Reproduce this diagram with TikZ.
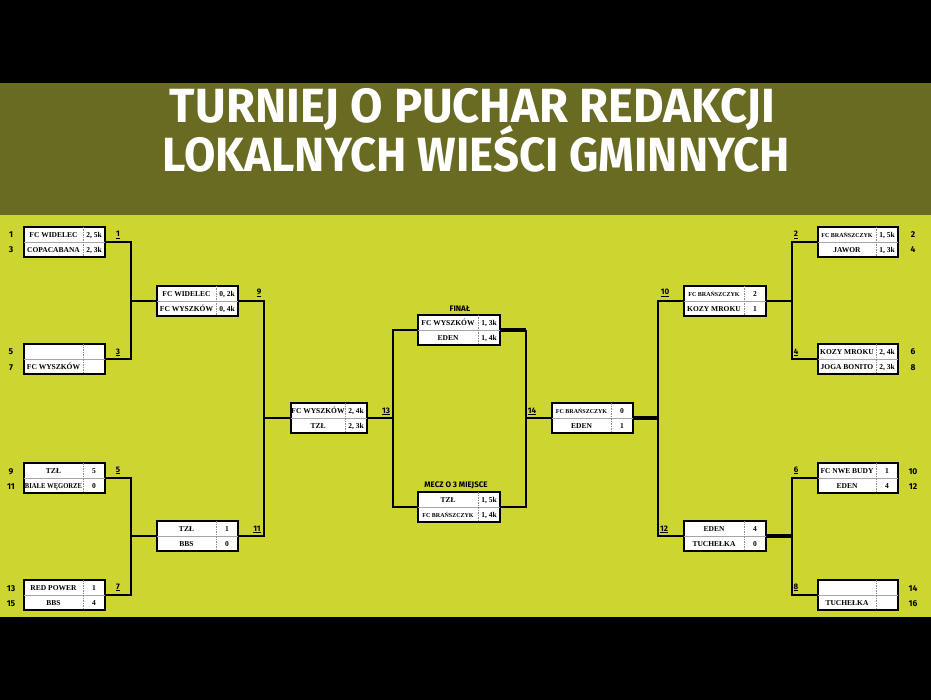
\documentclass[tikz,border=0pt]{standalone}
\usepackage{fontspec}
\usepackage{graphicx}
\setmainfont{Liberation Serif}
\newfontfamily\titlefont{Fira Sans}
\newfontfamily\labfont{Fira Sans}
\usetikzlibrary{calc}
\definecolor{bandolive}{RGB}{106,107,34}
\definecolor{bandgreen}{RGB}{205,213,48}
\tikzset{
  mbox/.style={draw=black, fill=white, line width=1.2pt, minimum height=30pt, inner sep=0pt, outer sep=0pt},
  rowsep/.style={draw=black!35, line width=0.5pt},
  colsep/.style={draw=black!45, line width=0.5pt, dash pattern=on 1.5pt off 1pt},
  team/.style={font=\bfseries\fontsize{7.5}{8}\selectfont, inner sep=0pt, anchor=base},
  conn/.style={draw=black, line width=2.5pt, line join=miter},
  connthick/.style={draw=black, line width=3.8pt},
  rlab/.style={font=\labfont\bfseries\fontsize{8}{9}\selectfont, inner sep=0pt, anchor=base},
  seed/.style={font=\labfont\bfseries\fontsize{8.5}{9}\selectfont, inner sep=0pt, anchor=base},
  ttl/.style={text=white, inner sep=0pt, anchor=base, font=\titlefont\bfseries\fontsize{48}{48}\selectfont}
}
\newcommand{\smallname}[1]{{\fontsize{6}{7}\selectfont #1}}
\newcommand{\squeeze}[1]{\scalebox{0.88}[1]{#1}}
% #1 name, #2 left x, #3 top y, #4 width, #5 team1, #6 score1, #7 team2, #8 score2
\newcommand{\matchbox}[8]{%
  \node[mbox, minimum width=#4pt, anchor=north west] (#1) at (#2,#3) {};
  \draw[rowsep] (#1.west) -- (#1.east);
  \draw[colsep] ($(#1.north east)+(-22,0)$) -- ($(#1.south east)+(-22,0)$);
  \node[team] (#1a) at ({#2+(#4-22)/2},{#3+10.2}) {#5};
  \node[team] (#1b) at ({#2+#4-11},{#3+10.2}) {#6};
  \node[team] (#1c) at ({#2+(#4-22)/2},{#3+25.2}) {#7};
  \node[team] (#1d) at ({#2+#4-11},{#3+25.2}) {#8};
}
\begin{document}
\begin{tikzpicture}[x=1pt,y=-1pt]
\useasboundingbox (0,0) rectangle (931,700);
\fill[black] (0,0) rectangle (931,83);
\fill[bandolive] (0,83) rectangle (931,215);
\fill[bandgreen] (0,215) rectangle (931,617);
\fill[black] (0,617) rectangle (931,700);

% title
\node[ttl] (title1) at (472.5,123) {\resizebox{605pt}{\height}{TURNIEJ O PUCHAR REDAKCJI}};
\node[ttl] (title2) at (476.5,172) {\resizebox{627pt}{\height}{LOKALNYCH WIEŚCI GMINNYCH}};

% left side
\matchbox{L1}{24}{227}{81}{FC WIDELEC}{2, 5k}{COPACABANA}{2, 3k}
\matchbox{L2}{24}{344}{81}{}{}{FC WYSZKÓW}{}
\matchbox{L3}{24}{463}{81}{TZŁ}{5}{\squeeze{BIAŁE WĘGORZE}}{0}
\matchbox{L4}{24}{580}{81}{RED POWER}{1}{BBS}{4}
\matchbox{L5}{157}{286}{81}{FC WIDELEC}{0, 2k}{FC WYSZKÓW}{0, 4k}
\matchbox{L6}{157}{521}{81}{TZŁ}{1}{BBS}{0}
\matchbox{L7}{291}{403}{76}{FC WYSZKÓW}{2, 4k}{TZŁ}{2, 3k}
% centre
\matchbox{F}{418}{315}{82}{FC WYSZKÓW}{1, 3k}{EDEN}{1, 4k}
\matchbox{T}{418}{492}{82}{TZŁ}{1, 5k}{\smallname{FC BRAŃSZCZYK}}{1, 4k}
% right side
\matchbox{R7}{552}{403}{81}{\smallname{FC BRAŃSZCZYK}}{0}{EDEN}{1}
\matchbox{R5}{684}{286}{82}{\smallname{FC BRAŃSZCZYK}}{2}{KOZY MROKU}{1}
\matchbox{R6}{684}{521}{82}{EDEN}{4}{TUCHEŁKA}{0}
\matchbox{R1}{818}{227}{80}{\smallname{FC BRAŃSZCZYK}}{1, 5k}{JAWOR}{1, 3k}
\matchbox{R2}{818}{344}{80}{KOZY MROKU}{2, 4k}{JOGA BONITO}{2, 3k}
\matchbox{R3}{818}{463}{80}{FC NWE BUDY}{1}{EDEN}{4}
\matchbox{R4}{818}{580}{80}{}{}{TUCHEŁKA}{}

% junctions
\coordinate (J1) at (131,301);
\coordinate (J2) at (131,536);
\coordinate (J3) at (264,418);
\coordinate (J4) at (393,418);
\coordinate (J5) at (526,418);
\coordinate (J6) at (658,418);
\coordinate (J7) at (792,301);
\coordinate (J8) at (792,536);

% connectors left
\draw[conn] (L1.east) -| (J1) |- (L2.east);
\draw[conn] (J1) -- (L5.west);
\draw[conn] (L3.east) -| (J2) |- (L4.east);
\draw[conn] (J2) -- (L6.west);
\draw[conn] (L5.east) -| (J3) |- (L6.east);
\draw[conn] (J3) -- (L7.west);
\draw[conn] (L7.east) -- (J4);
\draw[conn] (F.west) -| (J4) |- (T.west);
% connectors right
\draw[connthick] (F.east) -- (F.east -| J5);
\draw[conn] (F.east -| J5) -- (J5) |- (T.east);
\draw[conn] (J5) -- (R7.west);
\draw[connthick] (R7.east) -- (J6);
\draw[conn] (R5.west) -| (J6) |- (R6.west);
\draw[conn] (R5.east) -- (J7);
\draw[conn] (R1.west) -| (J7) |- (R2.west);
\draw[connthick] (R6.east) -- (J8);
\draw[conn] (R3.west) -| (J8) |- (R4.west);

% round labels
\node[rlab] (n1) at (118,237) {\underline{1}};
\node[rlab] (n3) at (118,354) {\underline{3}};
\node[rlab] (n5) at (118,472) {\underline{5}};
\node[rlab] (n7) at (118,589) {\underline{7}};
\node[rlab] (n9) at (259,295) {\underline{9}};
\node[rlab] (n11) at (257,531) {\underline{11}};
\node[rlab] (n13) at (386,413) {\underline{13}};
\node[rlab] (n14) at (532,413) {\underline{14}};
\node[rlab] (n10) at (665,295) {\underline{10}};
\node[rlab] (n12) at (664,531) {\underline{12}};
\node[rlab] (n2) at (796,237) {\underline{2}};
\node[rlab] (n4) at (796,354) {\underline{4}};
\node[rlab] (n6) at (796,472) {\underline{6}};
\node[rlab] (n8) at (796,589) {\underline{8}};

% stage titles
\node[rlab] (finaltxt) at (460,312) {FINAŁ};
\node[rlab] (thirdtxt) at (456,487) {MECZ O 3 MIEJSCE};

% seeds
\node[seed] (s1) at (11,238) {1};
\node[seed] (s3) at (11,253) {3};
\node[seed] (s5) at (11,355) {5};
\node[seed] (s7) at (11,370) {7};
\node[seed] (s9) at (11,474) {9};
\node[seed] (s11) at (11,489) {11};
\node[seed] (s13) at (11,591) {13};
\node[seed] (s15) at (11,606) {15};
\node[seed] (s2) at (913,238) {2};
\node[seed] (s4) at (913,253) {4};
\node[seed] (s6) at (913,355) {6};
\node[seed] (s8) at (913,370) {8};
\node[seed] (s10) at (913,474) {10};
\node[seed] (s12) at (913,489) {12};
\node[seed] (s14) at (913,591) {14};
\node[seed] (s16) at (913,606) {16};
\end{tikzpicture}
\end{document}
